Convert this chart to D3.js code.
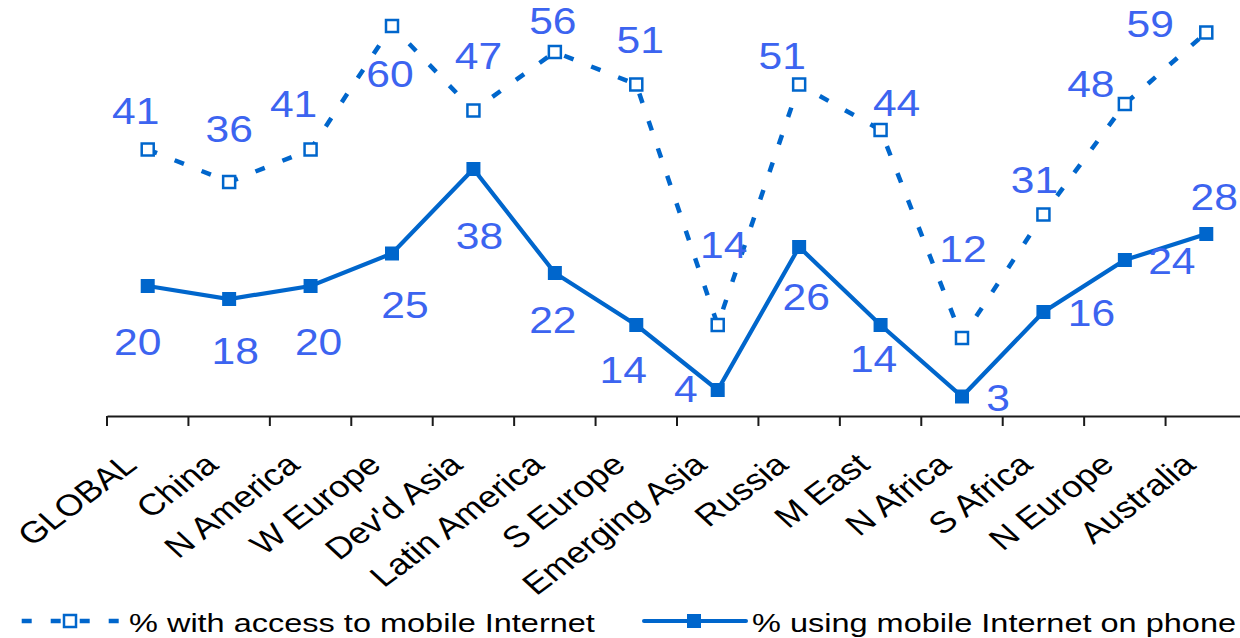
<!DOCTYPE html>
<html>
<head>
<meta charset="utf-8">
<script src="https://cdn.jsdelivr.net/npm/d3@7"></script>
<style>
  html, body { margin: 0; padding: 0; background: #ffffff; }
  svg { display: block; font-family: "Liberation Sans", Arial, sans-serif; }
</style>
</head>
<body>
<svg id="chart" width="1240" height="638"></svg>
<script>
// Regions along the x axis
const regions = ["GLOBAL", "China", "N America", "W Europe", "Dev'd Asia", "Latin America",
  "S Europe", "Emerging Asia", "Russia", "M East", "N Africa", "S Africa", "N Europe", "Australia"];

// % with access to mobile Internet
const accessValues = [41, 36, 41, 60, 47, 56, 51, 14, 51, 44, 12, 31, 48, 59];

// % using mobile Internet on phone
const phoneValues = [20, 18, 20, 25, 38, 22, 14, 4, 26, 14, 3, 16, 24, 28];

const seriesNames = ["% with access to mobile Internet", "% using mobile Internet on phone"];

// Value-label placement relative to each point (dx, dy of the text baseline)
const accessLabelShift = [[-12, -26], [0, -40], [-17, -33], [-2, 61], [5, -42], [-2, -18], [4, -32],
  [6, -67], [-17, -16], [16, -14], [1, -76], [-9, -22], [-34, -7], [-56, 4]];
const phoneLabelShift = [[-10, 69], [6, 65], [8, 69], [13, 64], [6, 80], [-2, 60], [-13, 58],
  [-32, 12], [7, 63], [-7, 47], [36, 14], [48, 14], [47, 14], [8, -24]];

const lineColor = "#0066cc";
const labelColor = "#3c64f0";

const svg = d3.select("#chart");

const x = d3.scaleBand().domain(regions).range([107, 1247]).padding(0);
const y = d3.scaleLinear().domain([0, 64]).range([416, 0]);
const cx = d => x(d) + x.bandwidth() / 2;

// Category axis
const axis = d3.axisBottom(x).tickSize(0).tickFormat("");
const axisG = svg.append("g").attr("transform", `translate(0,${y(0)})`).call(axis);
axisG.select(".domain").attr("stroke", "#1a1a1a").attr("stroke-width", 2);
const tickPos = regions.map(r => x(r)).concat([x.range()[1]]);
axisG.selectAll("line.boundary").data(tickPos).join("line")
  .attr("class", "boundary")
  .attr("x1", d => d).attr("x2", d => d)
  .attr("y1", 0).attr("y2", 10)
  .attr("stroke", "#1a1a1a").attr("stroke-width", 2);

svg.append("g").selectAll("text").data(regions).join("text")
  .attr("transform", d => `translate(${cx(d) - 9},${y(0) + 51}) scale(1.2,1) rotate(-42)`)
  .attr("text-anchor", "end")
  .attr("font-size", 30)
  .attr("fill", "#000")
  .text(d => d);

// Dashed series: access to mobile Internet
const lineGen = d3.line().x((d, i) => cx(regions[i])).y(d => y(d));

svg.append("path").datum(accessValues)
  .attr("d", lineGen)
  .attr("fill", "none")
  .attr("stroke", lineColor)
  .attr("stroke-width", 4.5)
  .attr("stroke-dasharray", "10,19");

svg.append("g").selectAll("rect").data(accessValues).join("rect")
  .attr("x", (d, i) => cx(regions[i]) - 6)
  .attr("y", d => y(d) - 6)
  .attr("width", 12).attr("height", 12)
  .attr("fill", "#fff")
  .attr("stroke", lineColor)
  .attr("stroke-width", 2.5);

// Solid series: using mobile Internet on phone
svg.append("path").datum(phoneValues)
  .attr("d", lineGen)
  .attr("fill", "none")
  .attr("stroke", lineColor)
  .attr("stroke-width", 4.2);

svg.append("g").selectAll("rect").data(phoneValues).join("rect")
  .attr("x", (d, i) => cx(regions[i]) - 7)
  .attr("y", d => y(d) - 7)
  .attr("width", 14).attr("height", 14)
  .attr("fill", lineColor);

// Value labels
function drawLabels(values, shift) {
  svg.append("g").selectAll("text").data(values).join("text")
    .attr("transform", (d, i) =>
      `translate(${cx(regions[i]) + shift[i][0]},${y(d) + shift[i][1]}) scale(1.15,1)`)
    .attr("text-anchor", "middle")
    .attr("font-size", 37)
    .attr("fill", labelColor)
    .text(d => d);
}
drawLabels(accessValues, accessLabelShift);
drawLabels(phoneValues, phoneLabelShift);

// Legend
const legendY = 621;
const leg1 = svg.append("g");
leg1.append("line")
  .attr("x1", 21.7).attr("x2", 121).attr("y1", legendY).attr("y2", legendY)
  .attr("stroke", lineColor).attr("stroke-width", 4.5).attr("stroke-dasharray", "10,19");
leg1.append("rect")
  .attr("x", 64).attr("y", legendY - 6).attr("width", 12).attr("height", 12)
  .attr("fill", "#fff").attr("stroke", lineColor).attr("stroke-width", 2.5);
leg1.append("text")
  .attr("transform", `translate(129,632) scale(1.3,1)`)
  .attr("font-size", 25).attr("fill", "#000")
  .text(seriesNames[0]);

const leg2 = svg.append("g");
leg2.append("line")
  .attr("x1", 644).attr("x2", 746).attr("y1", legendY).attr("y2", legendY)
  .attr("stroke", lineColor).attr("stroke-width", 4).attr("stroke-linecap", "round");
leg2.append("rect")
  .attr("x", 687).attr("y", legendY - 7).attr("width", 14).attr("height", 14)
  .attr("fill", lineColor);
leg2.append("text")
  .attr("transform", `translate(752,632) scale(1.3,1)`)
  .attr("font-size", 25).attr("fill", "#000")
  .text(seriesNames[1]);
</script>
</body>
</html>
